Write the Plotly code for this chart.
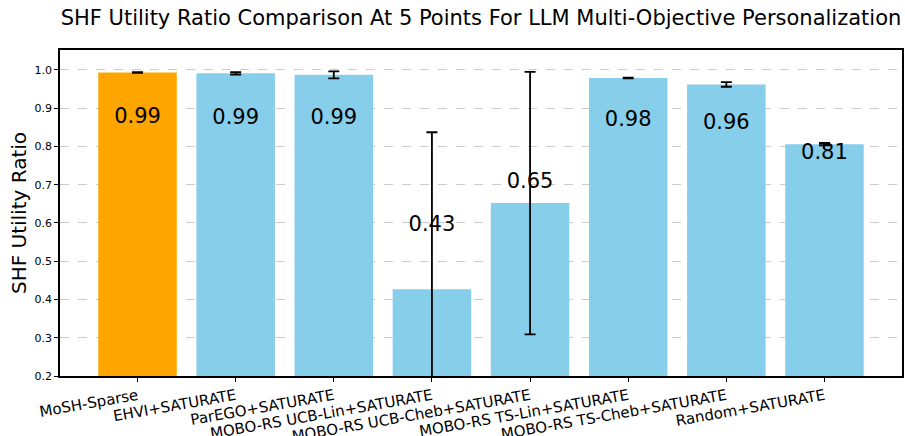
import plotly.graph_objects as go

methods = ["MoSH-Sparse", "EHVI+SATURATE", "ParEGO+SATURATE", "MOBO-RS UCB-Lin+SATURATE",
           "MOBO-RS UCB-Cheb+SATURATE", "MOBO-RS TS-Lin+SATURATE", "MOBO-RS TS-Cheb+SATURATE",
           "Random+SATURATE"]
means = [0.993, 0.991, 0.987, 0.427, 0.652, 0.979, 0.962, 0.806]
errors = [0.001, 0.003, 0.009, 0.410, 0.343, 0.001, 0.006, 0.003]
colors = ["#FFA500"] + ["#87CEEB"] * 7

x = list(range(len(methods)))
label_y = [0.5 * m + 0.378 for m in means]
labels = [f"{m:.2f}" for m in means]

fig = go.Figure()
fig.add_trace(go.Bar(
    x=x, y=means, width=0.8, marker=dict(color=colors, line=dict(width=0)),
    error_y=dict(type="data", array=errors, visible=True, color="black", thickness=1.8, width=5.5),
    showlegend=False, hoverinfo="skip",
))
fig.add_trace(go.Scatter(
    x=x, y=label_y, mode="text", text=labels,
    textfont=dict(family="DejaVu Sans", size=21, color="black"),
    showlegend=False, hoverinfo="skip", cliponaxis=False,
))

fig.update_layout(
    width=905, height=436,
    margin=dict(l=60, r=3, t=50, b=60),
    paper_bgcolor="white", plot_bgcolor="white",
    font=dict(family="DejaVu Sans", color="black"),
    title=dict(text="SHF Utility Ratio Comparison At 5 Points For LLM Multi-Objective Personalization",
               x=0.5315, xanchor="center", y=0.96, yanchor="middle",
               font=dict(size=21, family="DejaVu Sans", color="black")),
)
fig.update_xaxes(
    range=[-0.79, 7.79], tickmode="array", tickvals=x, ticktext=methods,
    tickangle=-10, tickfont=dict(size=15, family="DejaVu Sans"), automargin=False,
    ticks="outside", ticklen=4, tickcolor="black", showgrid=False,
    showline=True, linecolor="black", linewidth=1.5, mirror=True, zeroline=False,
)
fig.update_yaxes(
    range=[0.2, 1.052], tickmode="array", tickvals=[0.2, 0.3, 0.4, 0.5, 0.6, 0.7, 0.8, 0.9, 1.0],
    ticktext=["0.2", "0.3", "0.4", "0.5", "0.6", "0.7", "0.8", "0.9", "1.0"],
    tickfont=dict(size=11, family="DejaVu Sans"), automargin=False,
    ticks="outside", ticklen=4, tickcolor="black",
    showgrid=True, gridcolor="#cccccc", griddash="dash", gridwidth=1,
    showline=True, linecolor="black", linewidth=1.5, mirror=True, zeroline=False,
    title=dict(text="SHF Utility Ratio", font=dict(size=20, family="DejaVu Sans"), standoff=3),
)

fig.write_html("out.html", config={"displayModeBar": False},
               post_script="document.body.style.margin='0';document.body.style.overflow='hidden';")
